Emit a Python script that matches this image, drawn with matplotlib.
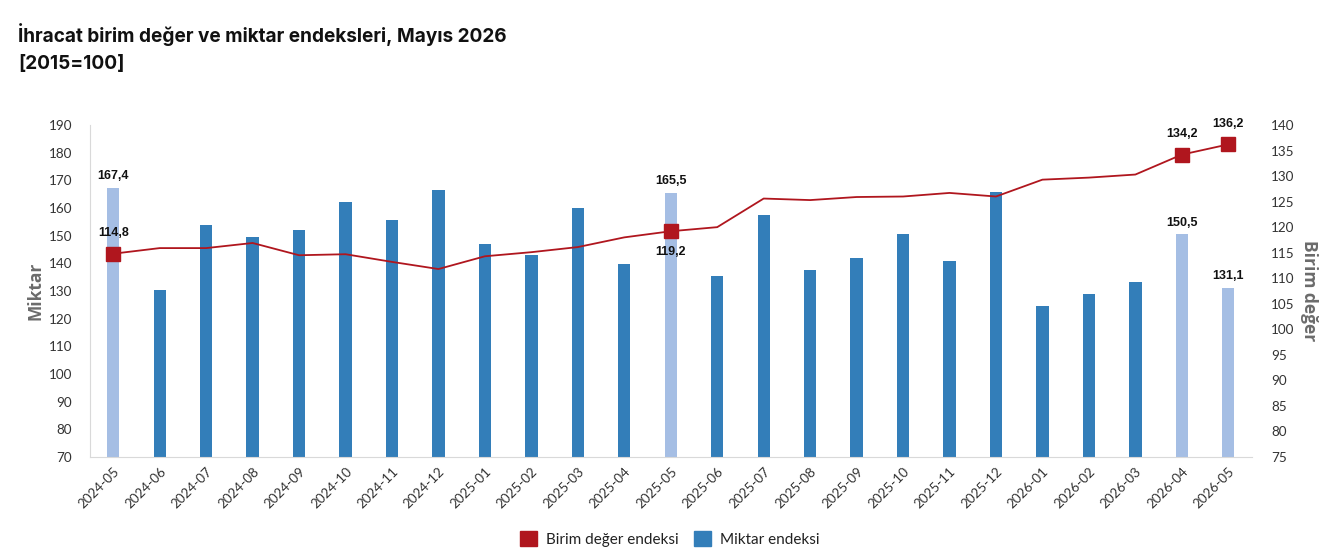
import matplotlib
matplotlib.use("Agg")
import matplotlib.pyplot as plt
import numpy as np
from matplotlib.patches import Patch

months = ["2024-05", "2024-06", "2024-07", "2024-08", "2024-09", "2024-10", "2024-11",
          "2024-12", "2025-01", "2025-02", "2025-03", "2025-04", "2025-05", "2025-06",
          "2025-07", "2025-08", "2025-09", "2025-10", "2025-11", "2025-12", "2026-01",
          "2026-02", "2026-03", "2026-04", "2026-05"]
miktar = [167.4, 130.4, 153.8, 149.5, 152.0, 162.2, 155.6, 166.5, 147.0, 143.0, 160.0,
          139.8, 165.5, 135.4, 157.5, 137.6, 141.9, 150.6, 140.8, 165.8, 124.6, 128.9,
          133.2, 150.5, 131.1]
birim = [114.8, 115.9, 115.9, 116.9, 114.5, 114.7, 113.2, 111.8, 114.3, 115.1, 116.1,
         118.0, 119.2, 120.0, 125.6, 125.3, 125.9, 126.0, 126.7, 126.0, 129.3, 129.7,
         130.3, 134.2, 136.2]
highlight = ["2024-05", "2025-05", "2026-04", "2026-05"]

dark_blue = "#337EB9"
light_blue = "#A5BEE4"
red = "#B0161E"
grey_axis = "#D9D9D9"

fig = plt.figure(figsize=(13.24, 5.53), dpi=100)
ax = fig.add_axes([90 / 1324, 1 - 457 / 553, 1161.5 / 1324, 332 / 553])
ax2 = ax.twinx()

x = np.arange(len(months))
colors = [light_blue if m in highlight else dark_blue for m in months]
ax.bar(x, miktar, width=0.265, color=colors, zorder=2)
ax.set_xlim(-0.5, len(months) - 0.5)
ax.set_ylim(70, 190)
ax.set_yticks(np.arange(70, 191, 10))
ax2.set_ylim(75, 140)
ax2.set_yticks(np.arange(75, 141, 5))

ax2.plot(x, birim, color=red, lw=1.3, zorder=3)
hi_idx = [months.index(m) for m in highlight]
ax2.plot([x[i] for i in hi_idx], [birim[i] for i in hi_idx], linestyle="none",
         marker="s", markersize=10.5, color=red, zorder=4)

tick_font = dict(family=["Lato", "DejaVu Sans"], size=9.7, color="#333333")
ax.set_xticks(x)
ax.set_xticklabels(months, rotation=45, ha="right", rotation_mode="anchor", **tick_font)
for lab in ax.get_yticklabels():
    lab.set_fontfamily(["Lato", "DejaVu Sans"]); lab.set_fontsize(9.7); lab.set_color("#333333")
for lab in ax2.get_yticklabels():
    lab.set_fontfamily(["Lato", "DejaVu Sans"]); lab.set_fontsize(9.7); lab.set_color("#333333")
ax.tick_params(axis="y", length=0, pad=13)
ax.tick_params(axis="x", length=0, pad=6)
ax2.tick_params(axis="y", length=0, pad=14)

for s in ["top", "right"]:
    ax.spines[s].set_visible(False)
for s in ["top", "right", "left", "bottom"]:
    ax2.spines[s].set_visible(False)
ax.spines["left"].set_color(grey_axis)
ax.spines["bottom"].set_color(grey_axis)

lab_font = dict(family=["Liberation Sans", "DejaVu Sans"], size=9, weight="bold", color="#111111")
for i in hi_idx:
    ax.annotate(f"{miktar[i]:.1f}".replace(".", ","), (x[i], miktar[i]), xytext=(0, 4),
                textcoords="offset points", ha="center", va="bottom", **lab_font)
for i in hi_idx:
    below = months[i] == "2025-05"
    ax2.annotate(f"{birim[i]:.1f}".replace(".", ","), (x[i], birim[i]),
                 xytext=(0, -15 if below else 15), textcoords="offset points",
                 ha="center", va="center", **lab_font)

ax.set_ylabel("Miktar", fontsize=12.5, fontweight="bold", color="#6B6B6B",
              family=["Open Sans", "DejaVu Sans"], labelpad=3)
ax2.set_ylabel("Birim değer", fontsize=12.5, fontweight="bold", color="#6B6B6B",
               family=["Open Sans", "DejaVu Sans"], rotation=270, labelpad=17)

fig.text(18 / 1324, 1 - 35 / 553, "İhracat birim değer ve miktar endeksleri, Mayıs 2026",
         fontsize=13.7, fontweight="bold", family=["Inter", "DejaVu Sans"], color="#111111",
         va="center", ha="left")
fig.text(18 / 1324, 1 - 64 / 553, "[2015=100]",
         fontsize=13.7, fontweight="bold", family=["Inter", "DejaVu Sans"], color="#111111",
         va="center", ha="left")

handles = [Patch(facecolor=red, edgecolor=red), Patch(facecolor=dark_blue, edgecolor=dark_blue)]
leg = fig.legend(handles, ["Birim değer endeksi", "Miktar endeksi"], loc="center",
                 bbox_to_anchor=(670 / 1324, 1 - 539 / 553), ncol=2, frameon=False,
                 handlelength=1.1, handleheight=1.1, handletextpad=0.6, columnspacing=1.0,
                 prop=dict(family=["Lato", "DejaVu Sans"], size=11))
for t in leg.get_texts():
    t.set_color("#222222")

fig.savefig("out.png", dpi=100)
